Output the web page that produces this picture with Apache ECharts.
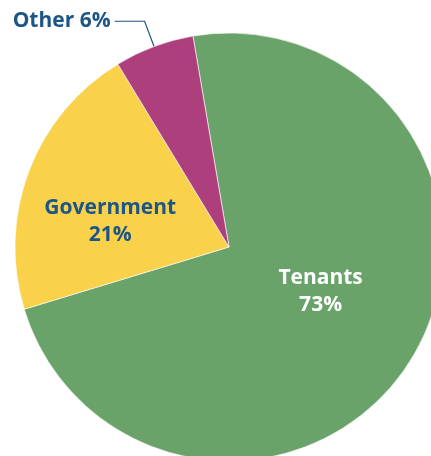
<!DOCTYPE html>
<html><head><meta charset="utf-8">
<script src="https://cdn.jsdelivr.net/npm/echarts@6/dist/echarts.min.js"></script>
<style>html,body{margin:0;padding:0;background:#fff}#c{width:431px;height:456px}</style>
</head><body><div id="c"></div>
<script>
const categories = ['Tenants', 'Government', 'Other'];
const values = [73, 21, 6];
const colors = ['#6aa36a', '#f9d14a', '#ae3f7d'];

const chart = echarts.init(document.getElementById('c'));
const textColor = '#1c5587';
const font = '"Open Sans", "Noto Sans", sans-serif';
const data = categories.map((c, i) => ({
  name: c, value: values[i], itemStyle: { color: colors[i] }
}));
data[0].label = { position: 'inside', color: '#fff', formatter: '{b}\n{c}%' };
data[1].label = { position: 'inside', color: textColor, formatter: '{b}\n{c}%' };
data[2].label = { position: 'outside', color: textColor, formatter: '{b} {c}%', alignTo: 'none', distanceToLabelLine: 4 };
data[2].labelLine = { show: true, length: 27, length2: 30, lineStyle: { color: textColor, width: 1.2 } };

chart.setOption({
  animation: false,
  series: [{
    type: 'pie',
    center: [229, 247],
    radius: [0, 214],
    startAngle: 99.7,
    clockwise: true,
    avoidLabelOverlap: false,
    itemStyle: { borderColor: '#fff', borderWidth: 0.6 },
    label: { fontFamily: font, fontWeight: 'bold', fontSize: 21, lineHeight: 27 },
    labelLine: { show: false },
    labelLayout: function (p) {
      if (p.dataIndex === 1) return { dx: -16, dy: 14 };
      if (p.dataIndex === 0) return { dx: -2, dy: -13 };
      return {};
    },
    data: data
  }]
});
</script></body></html>
